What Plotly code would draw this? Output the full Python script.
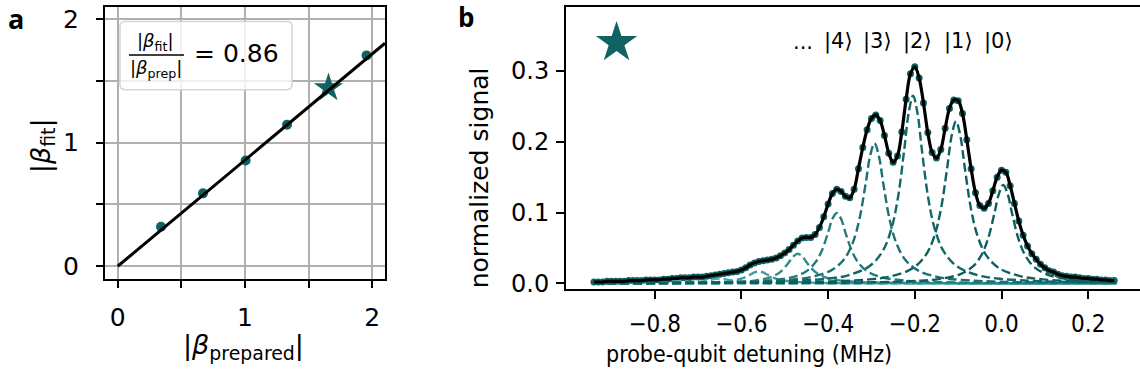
import plotly.graph_objects as go

W, H = 1140, 383

# ---------------- Panel a data ----------------
beta_prepared = [0.34, 0.67, 1.005, 1.33, 1.955]
beta_fit = [0.32, 0.59, 0.856, 1.146, 1.707]
star_prepared = [1.656]
star_fit = [1.444]
ratio = 0.86
fit_line_x = [0.0, 2.1]
a_ticks = [0, 0.5, 1, 1.5, 2]
a_ticktext = ["0", "", "1", "", "2"]

# ---------------- Panel b data ----------------
detuning = [-0.94, -0.93, -0.92, -0.91, -0.90, -0.89, -0.88, -0.87, -0.86, -0.85,
            -0.84, -0.83, -0.82, -0.81, -0.80, -0.79, -0.78, -0.77, -0.76, -0.75,
            -0.74, -0.73, -0.72, -0.71, -0.70, -0.69, -0.68, -0.67, -0.66, -0.65,
            -0.64, -0.63, -0.62, -0.61, -0.60, -0.59, -0.58, -0.57, -0.56, -0.55,
            -0.54, -0.53, -0.52, -0.51, -0.50, -0.49, -0.48, -0.47, -0.46, -0.45,
            -0.44, -0.43, -0.42, -0.41, -0.40, -0.39, -0.38, -0.37, -0.36, -0.35,
            -0.34, -0.33, -0.32, -0.31, -0.30, -0.29, -0.28, -0.27, -0.26, -0.25,
            -0.24, -0.23, -0.22, -0.21, -0.20, -0.19, -0.18, -0.17, -0.16, -0.15,
            -0.14, -0.13, -0.12, -0.11, -0.10, -0.09, -0.08, -0.07, -0.06, -0.05,
            -0.04, -0.03, -0.02, -0.01, 0.00, 0.01, 0.02, 0.03, 0.04, 0.05,
            0.06, 0.07, 0.08, 0.09, 0.10, 0.11, 0.12, 0.13, 0.14, 0.15,
            0.16, 0.17, 0.18, 0.19, 0.20, 0.21, 0.22, 0.23, 0.24, 0.25,
            0.26]
signal = [0.002, 0.002, 0.002, 0.003, 0.003, 0.003, 0.003, 0.003, 0.004, 0.004,
          0.004, 0.004, 0.005, 0.005, 0.005, 0.005, 0.006, 0.006, 0.007, 0.007,
          0.008, 0.008, 0.008, 0.009, 0.009, 0.009, 0.010, 0.011, 0.012, 0.013,
          0.014, 0.015, 0.016, 0.017, 0.019, 0.022, 0.026, 0.029, 0.031, 0.032,
          0.033, 0.034, 0.036, 0.039, 0.043, 0.048, 0.054, 0.060, 0.064, 0.065,
          0.065, 0.069, 0.079, 0.094, 0.112, 0.127, 0.133, 0.130, 0.123, 0.121,
          0.133, 0.162, 0.192, 0.217, 0.233, 0.238, 0.230, 0.209, 0.184, 0.171,
          0.180, 0.214, 0.260, 0.296, 0.306, 0.290, 0.255, 0.213, 0.185, 0.177,
          0.189, 0.219, 0.247, 0.259, 0.258, 0.240, 0.203, 0.162, 0.128, 0.110,
          0.106, 0.113, 0.131, 0.150, 0.160, 0.157, 0.138, 0.113, 0.088, 0.068,
          0.053, 0.042, 0.034, 0.027, 0.022, 0.018, 0.016, 0.013, 0.011, 0.010,
          0.009, 0.009, 0.008, 0.007, 0.007, 0.006, 0.006, 0.005, 0.005, 0.004,
          0.004]

# Fock-state components (dashed)
k0_x = [-0.94, -0.696, -0.496, -0.296, -0.196, -0.146, -0.096, -0.066, -0.046, -0.031, -0.016,
        -0.006, 0.004, 0.014, 0.024, 0.039, 0.054, 0.074, 0.104, 0.154, 0.204, 0.265]
k0_y = [0.0002, 0.0003, 0.0006, 0.0016, 0.0035, 0.006, 0.0129, 0.024, 0.0404, 0.0632, 0.0999,
        0.1266, 0.139, 0.1266, 0.0999, 0.0632, 0.0404, 0.024, 0.0129, 0.006, 0.0035, 0.0021]
k1_x = [-0.94, -0.605, -0.405, -0.305, -0.255, -0.205, -0.175, -0.155, -0.14, -0.125, -0.115,
        -0.105, -0.095, -0.085, -0.07, -0.055, -0.035, -0.005, 0.045, 0.095, 0.195, 0.265]
k1_y = [0.0003, 0.0009, 0.0026, 0.0057, 0.0100, 0.0213, 0.0396, 0.0666, 0.1042, 0.1647, 0.2086,
        0.229, 0.2086, 0.1647, 0.1042, 0.0666, 0.0396, 0.0213, 0.0100, 0.0057, 0.0026, 0.0017]
k2_x = [-0.94, -0.704, -0.504, -0.404, -0.354, -0.304, -0.274, -0.254, -0.239, -0.224, -0.214,
        -0.204, -0.194, -0.184, -0.169, -0.154, -0.134, -0.104, -0.054, -0.004, 0.096, 0.265]
k2_y = [0.0005, 0.0011, 0.0030, 0.0066, 0.0115, 0.0246, 0.0458, 0.0771, 0.1206, 0.1905, 0.2414,
        0.265, 0.2414, 0.1905, 0.1206, 0.0771, 0.0458, 0.0246, 0.0115, 0.0066, 0.0030, 0.0012]
k3_x = [-0.94, -0.793, -0.593, -0.493, -0.443, -0.393, -0.363, -0.343, -0.328, -0.313, -0.303,
        -0.293, -0.283, -0.273, -0.258, -0.243, -0.223, -0.193, -0.143, -0.093, 0.007, 0.265]
k3_y = [0.0005, 0.0008, 0.0022, 0.0050, 0.0086, 0.0184, 0.0343, 0.0576, 0.0901, 0.1424, 0.1804,
        0.198, 0.1804, 0.1424, 0.0901, 0.0576, 0.0343, 0.0184, 0.0086, 0.0050, 0.0022, 0.0007]
k4_x = [-0.94, -0.88, -0.68, -0.58, -0.53, -0.48, -0.45, -0.43, -0.415, -0.40, -0.39,
        -0.38, -0.37, -0.36, -0.345, -0.33, -0.31, -0.28, -0.23, -0.18, -0.08, 0.265]
k4_y = [0.0003, 0.0004, 0.0011, 0.0025, 0.0044, 0.0093, 0.0173, 0.0291, 0.0455, 0.0719, 0.0911,
        0.0995, 0.0911, 0.0719, 0.0455, 0.0291, 0.0173, 0.0093, 0.0044, 0.0025, 0.0011, 0.0003]
k5_x = [-0.94, -0.77, -0.67, -0.62, -0.57, -0.54, -0.52, -0.505, -0.49, -0.48, -0.47,
        -0.46, -0.45, -0.435, -0.42, -0.40, -0.37, -0.32, -0.27, -0.17, 0.03, 0.265]
k5_y = [0.0002, 0.0005, 0.0011, 0.0018, 0.0039, 0.0073, 0.0122, 0.0191, 0.0302, 0.0383, 0.042,
        0.0383, 0.0302, 0.0191, 0.0122, 0.0073, 0.0039, 0.0018, 0.0011, 0.0005, 0.0002, 0.0001]
k6_x = [-0.94, -0.86, -0.76, -0.71, -0.66, -0.63, -0.61, -0.595, -0.58, -0.57, -0.56,
        -0.55, -0.54, -0.525, -0.51, -0.49, -0.46, -0.41, -0.36, -0.26, -0.06, 0.265]
k6_y = [0.0001, 0.0002, 0.0004, 0.0007, 0.0016, 0.0029, 0.0050, 0.0077, 0.0122, 0.0155, 0.017,
        0.0155, 0.0122, 0.0077, 0.0050, 0.0029, 0.0016, 0.0007, 0.0004, 0.0002, 0.0001, 0.0000]
k7_x = [-0.94, -0.85, -0.80, -0.75, -0.72, -0.70, -0.685, -0.67, -0.66, -0.65, -0.64,
        -0.63, -0.615, -0.60, -0.58, -0.55, -0.50, -0.45, -0.35, -0.15, 0.265]
k7_y = [0.0001, 0.0002, 0.0003, 0.0007, 0.0012, 0.0020, 0.0032, 0.0050, 0.0064, 0.007, 0.0064,
        0.0050, 0.0032, 0.0020, 0.0012, 0.0007, 0.0003, 0.0002, 0.0001, 0.0000, 0.0000]
k8_x = [-0.94, -0.89, -0.84, -0.81, -0.79, -0.775, -0.76, -0.75, -0.74, -0.73, -0.72,
        -0.705, -0.69, -0.67, -0.64, -0.59, -0.54, -0.44, -0.24, 0.265]
k8_y = [0.0001, 0.0001, 0.0003, 0.0005, 0.0009, 0.0014, 0.0022, 0.0027, 0.003, 0.0027, 0.0022,
        0.0014, 0.0009, 0.0005, 0.0003, 0.0001, 0.0001, 0.0000, 0.0000, 0.0000]

comp_colors = ["#0d5e5e", "#0f6161", "#136767", "#1a7171", "#247d7d",
               "#318b8b", "#419b9b", "#53aaaa", "#66b9b9"]

b_xticks = [-0.8, -0.6, -0.4, -0.2, 0.0, 0.2]
b_xticktext = ["\u22120.8", "\u22120.6", "\u22120.4", "\u22120.2", "0.0", "0.2"]
b_yticks = [0.0, 0.1, 0.2, 0.3]
b_yticktext = ["0.0", "0.1", "0.2", "0.3"]

ket_labels = ["...", "|4\u27e9", "|3\u27e9", "|2\u27e9", "|1\u27e9", "|0\u27e9"]
ket_x = [-0.458, -0.376, -0.285, -0.193, -0.100, -0.008]
ket_y = 0.341
star_b_x = [-0.888]
star_b_y = [0.340]

TEAL = "#0f6363"
FONT = "DejaVu Sans"
FONTC = "DejaVu Sans Condensed"


def px(xp):
    return xp / W


def py(yp):
    return 1 - yp / H


fig = go.Figure()

# ---------- Panel a ----------
fig.add_trace(go.Scatter(x=beta_prepared, y=beta_fit, mode="markers",
                         marker=dict(color=TEAL, size=10), xaxis="x", yaxis="y",
                         showlegend=False, cliponaxis=False))
fig.add_trace(go.Scatter(x=star_prepared, y=star_fit, mode="markers",
                         marker=dict(color=TEAL, size=22, symbol="star", line=dict(width=0)),
                         xaxis="x", yaxis="y", showlegend=False))
fig.add_trace(go.Scatter(x=fit_line_x, y=[ratio * v for v in fit_line_x], mode="lines",
                         line=dict(color="black", width=3), xaxis="x", yaxis="y",
                         showlegend=False))

# ---------- Panel b ----------
fig.add_trace(go.Scatter(x=detuning, y=signal, mode="markers",
                         marker=dict(color=TEAL, size=7), xaxis="x2", yaxis="y2",
                         showlegend=False))
comps = [(k8_x, k8_y), (k7_x, k7_y), (k6_x, k6_y), (k5_x, k5_y), (k4_x, k4_y),
         (k3_x, k3_y), (k2_x, k2_y), (k1_x, k1_y), (k0_x, k0_y)]
for i, (cx, cy) in enumerate(comps):
    col = comp_colors[len(comps) - 1 - i]
    fig.add_trace(go.Scatter(x=cx, y=cy, mode="lines", line_shape="spline",
                             line=dict(color=col, width=2.4, dash="9px,4px"),
                             xaxis="x2", yaxis="y2", showlegend=False))
fig.add_trace(go.Scatter(x=detuning, y=signal, mode="lines", line_shape="spline",
                         line=dict(color="black", width=3.2), xaxis="x2", yaxis="y2",
                         showlegend=False))
fig.add_trace(go.Scatter(x=star_b_x, y=star_b_y, mode="markers",
                         marker=dict(color=TEAL, size=31, symbol="star", line=dict(width=0)),
                         xaxis="x2", yaxis="y2", showlegend=False))

axis_common = dict(showline=True, linecolor="black", linewidth=2, ticks="outside",
                   tickcolor="black", tickwidth=1.5, zeroline=False)

fig.update_layout(
    width=W, height=H, autosize=False,
    margin=dict(l=0, r=0, t=0, b=0),
    paper_bgcolor="white", plot_bgcolor="white",
    xaxis=dict(domain=[px(105), px(385)], range=[-0.1, 2.1], tickvals=a_ticks,
               ticktext=a_ticktext, ticklen=7, mirror=True, showgrid=True,
               gridcolor="#b0b0b0", gridwidth=1.5, ticklabelstandoff=8,
               tickfont=dict(family=FONT, size=25, color="black"), anchor="y",
               **axis_common),
    yaxis=dict(domain=[py(284), py(5)], range=[-0.1, 2.1], tickvals=a_ticks,
               ticktext=a_ticktext, ticklen=7, mirror=True, showgrid=True,
               gridcolor="#b0b0b0", gridwidth=1.5, ticklabelstandoff=12,
               tickfont=dict(family=FONT, size=25, color="black"), anchor="x",
               **axis_common),
    xaxis2=dict(domain=[px(566), 1.0], range=[-1.0046, 0.3195], tickvals=b_xticks,
                ticktext=b_xticktext, ticklen=8, mirror=True, showgrid=False,
                ticklabelstandoff=4,
                tickfont=dict(family=FONTC, size=24, color="black"), anchor="y2",
                **axis_common),
    yaxis2=dict(domain=[py(295), py(5)], range=[-0.0083, 0.3906], tickvals=b_yticks,
                ticktext=b_yticktext, ticklen=8, mirror=False, showgrid=False,
                ticklabelstandoff=2,
                tickfont=dict(family=FONT, size=24, color="black"), anchor="x2",
                **axis_common),
)

# legend-like box in panel a (rounded rectangle)
bx0, bx1, by0, by1, r = 120, 292, 20, 90, 5
rx, ry = r / W, r / H
X0, X1, Y0, Y1 = px(bx0), px(bx1), py(by1), py(by0)
path = (f"M {X0+rx},{Y0} L {X1-rx},{Y0} Q {X1},{Y0} {X1},{Y0+ry} "
        f"L {X1},{Y1-ry} Q {X1},{Y1} {X1-rx},{Y1} L {X0+rx},{Y1} "
        f"Q {X0},{Y1} {X0},{Y1-ry} L {X0},{Y0+ry} Q {X0},{Y0} {X0+rx},{Y0} Z")
fig.add_shape(type="path", path=path, xref="paper", yref="paper",
              fillcolor="rgba(255,255,255,0.8)", line=dict(color="#d5d5d5", width=1.5))
fig.add_shape(type="line", xref="paper", yref="paper", x0=px(129), x1=px(184),
              y0=py(54.5), y1=py(54.5), line=dict(color="black", width=1.5))

annots = []


def ann(text, xp, yp, size, family=FONT, angle=0, xanchor="center", bold=False):
    annots.append(dict(text=text, x=px(xp), y=py(yp), xref="paper", yref="paper",
                       showarrow=False, xanchor=xanchor, yanchor="middle",
                       textangle=angle,
                       font=dict(family=family, size=size, color="black",
                                 weight="bold" if bold else "normal")))


ann("|<i>β</i><sub>fit</sub>|", 155, 41, 18)
ann("|<i>β</i><sub>prep</sub>|", 156, 69, 18)
ann(f"= {ratio:.2f}", 236, 53, 25)
ann("|<i>β</i><sub>prepared</sub>|", 243, 354, 27)
ann("|<i>β</i><sub>fit</sub>|", 42, 147, 27, angle=-90)
ann("normalized signal", 479, 180, 25, angle=-90)
ann("probe-qubit detuning (MHz)", 749, 361, 23, family=FONTC)
ann("a", 16, 17, 27, family="Open Sans", bold=True)
ann("b", 466, 15, 26, family="Open Sans", bold=True)
fig.update_layout(annotations=annots)

for lab, kx in zip(ket_labels, ket_x):
    fig.add_annotation(text=lab, x=kx, y=ket_y, xref="x2", yref="y2", showarrow=False,
                       xanchor="center", yanchor="middle",
                       font=dict(family=FONT, size=21, color="black"))

fig.write_html("out.html")
